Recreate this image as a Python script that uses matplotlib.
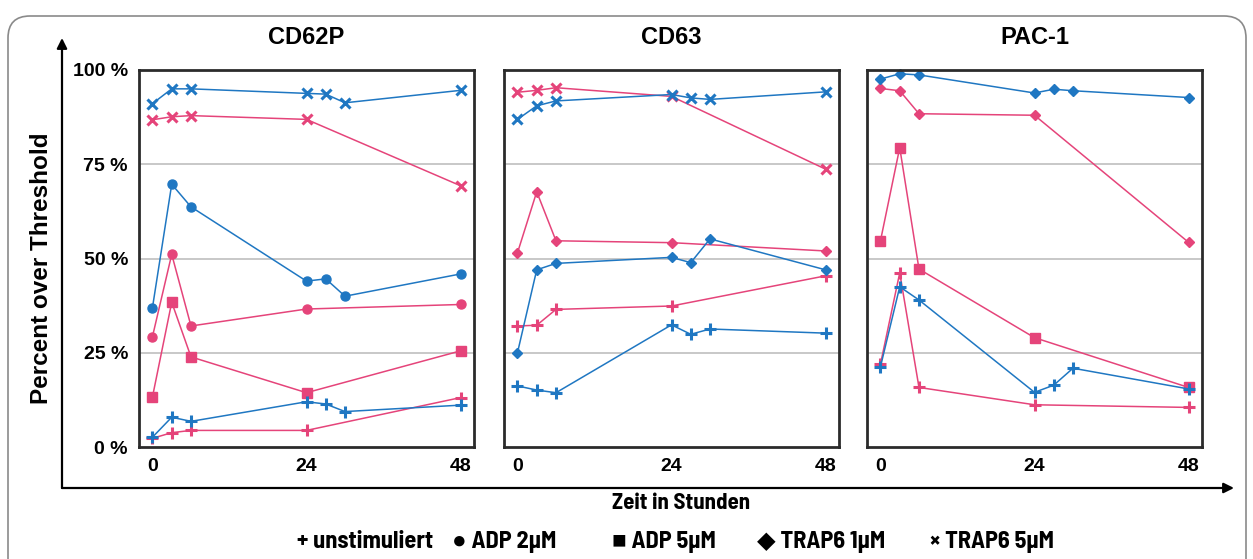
import matplotlib
matplotlib.use("Agg")
import matplotlib.pyplot as plt
from matplotlib.patches import FancyArrowPatch, FancyBboxPatch
from matplotlib.transforms import IdentityTransform

# ---- data ----
hours_blue = [0, 3, 6, 24, 27, 30, 48]
hours_pink = [0, 3, 6, 24, 48]

panel_titles = ["CD62P", "CD63", "PAC-1"]
y_ticks = [0, 25, 50, 75, 100]
y_ticklabels = ["0 %", "25 %", "50 %", "75 %", "100 %"]
x_ticks = [0, 24, 48]

# CD62P
cd62p_blue_x = [91.1, 95.0, 95.0, 93.8, 93.6, 91.3, 94.6]
cd62p_pink_x = [86.8, 87.6, 87.9, 86.9, 69.3]
cd62p_blue_o = [37.0, 69.7, 63.7, 44.0, 44.6, 40.0, 45.9]
cd62p_pink_o = [29.3, 51.1, 32.1, 36.6, 37.8]
cd62p_pink_s = [13.3, 38.4, 23.9, 14.4, 25.5]
cd62p_blue_plus = [2.6, 7.9, 6.8, 12.0, 11.4, 9.4, 11.1]
cd62p_pink_plus = [2.3, 3.8, 4.4, 4.4, 13.1]

# CD63
cd63_pink_x = [94.1, 94.6, 95.3, 93.0, 73.7]
cd63_blue_x = [86.9, 90.5, 91.8, 93.5, 92.6, 92.2, 94.2]
cd63_pink_d = [51.5, 67.7, 54.7, 54.2, 52.0]
cd63_blue_d = [25.0, 47.0, 48.7, 50.3, 48.9, 55.2, 47.0]
cd63_pink_plus = [32.1, 32.3, 36.5, 37.4, 45.4]
cd63_blue_plus = [16.2, 15.1, 14.4, 32.4, 29.9, 31.3, 30.2]

# PAC-1
pac1_blue_d = [97.6, 99.0, 98.7, 93.9, 94.9, 94.5, 92.7]
pac1_pink_d = [95.1, 94.5, 88.4, 88.0, 54.3]
pac1_pink_s = [54.7, 79.4, 47.2, 29.0, 15.8]
pac1_blue_plus = [21.3, 42.5, 39.0, 14.5, 16.4, 20.9, 15.4]
pac1_pink_plus = [22.0, 46.2, 15.8, 11.2, 10.5]

legend_labels = ["+ unstimuliert", "\u25CF ADP 2\u00B5M", "\u25A0 ADP 5\u00B5M",
                 "\u25C6 TRAP6 1\u00B5M", "\u00D7 TRAP6 5\u00B5M"]

BLUE = "#1f77c2"
PINK = "#e5447a"

# (hours, values, colour, marker)
panels = [
    [(hours_pink, cd62p_pink_x, PINK, "x"), (hours_pink, cd62p_pink_o, PINK, "o"),
     (hours_pink, cd62p_pink_s, PINK, "s"), (hours_pink, cd62p_pink_plus, PINK, "+"),
     (hours_blue, cd62p_blue_x, BLUE, "x"), (hours_blue, cd62p_blue_o, BLUE, "o"),
     (hours_blue, cd62p_blue_plus, BLUE, "+")],
    [(hours_pink, cd63_pink_x, PINK, "x"), (hours_pink, cd63_pink_d, PINK, "D"),
     (hours_pink, cd63_pink_plus, PINK, "+"),
     (hours_blue, cd63_blue_x, BLUE, "x"), (hours_blue, cd63_blue_d, BLUE, "D"),
     (hours_blue, cd63_blue_plus, BLUE, "+")],
    [(hours_pink, pac1_pink_d, PINK, "D"), (hours_pink, pac1_pink_s, PINK, "s"),
     (hours_pink, pac1_pink_plus, PINK, "+"),
     (hours_blue, pac1_blue_d, BLUE, "D"), (hours_blue, pac1_blue_plus, BLUE, "+")],
]

marker_style = {
    "x": dict(markersize=7, markeredgewidth=2.2),
    "o": dict(markersize=6.5),
    "s": dict(markersize=6.5),
    "D": dict(markersize=5.5),
    "+": dict(markersize=8, markeredgewidth=2.2),
}

plt.rcParams["font.family"] = ["Liberation Sans", "DejaVu Sans"]
narrow = ["Barlow Semi Condensed", "Liberation Sans", "DejaVu Sans"]

W, H = 1253, 559
fig = plt.figure(figsize=(W / 100, H / 100), dpi=100)

# outer rounded frame
fig.add_artist(FancyBboxPatch((8, -40), 1238, 543 + 40,
                              boxstyle="round,pad=0,rounding_size=22",
                              transform=IdentityTransform(),
                              facecolor="none", edgecolor="#8a8a8a", lw=1.2))

lefts = [139, 504, 867]
pw = 335
top, bottom = 70, 447

for i, (left, series) in enumerate(zip(lefts, panels)):
    ax = fig.add_axes([left / W, (H - bottom) / H, pw / W, (bottom - top) / H])
    for y in [25, 50, 75]:
        ax.axhline(y, color="#c4c4c4", lw=1.3, zorder=0)
    for hrs, vals, col, mk in series:
        ax.plot(hrs, vals, color=col, lw=1.1, marker=mk,
                markerfacecolor=col, markeredgecolor=col, clip_on=False,
                **marker_style[mk])
    ax.set_xlim(-2.1, 50.1)
    ax.set_ylim(0, 100)
    ax.set_xticks(x_ticks)
    ax.set_xticklabels([str(t) for t in x_ticks], fontsize=14, fontweight="bold")
    ax.set_yticks(y_ticks)
    if i == 0:
        ax.set_yticklabels(y_ticklabels, fontsize=14, fontweight="bold")
    else:
        ax.set_yticklabels([])
    ax.tick_params(length=0, pad=8)
    for sp in ax.spines.values():
        sp.set_color("#2b2b2b")
        sp.set_linewidth(2)
    fig.text((left + pw / 2) / W, 1 - 37 / H, panel_titles[i],
             ha="center", va="center", fontsize=17, fontweight="bold")

# big axis arrows
ax_x, ax_y = 62, 488
fig.add_artist(FancyArrowPatch((ax_x / W, 1 - ax_y / H), (ax_x / W, 1 - 38 / H),
                               transform=fig.transFigure, arrowstyle="-|>,head_length=6,head_width=3",
                               color="black", lw=1.6, shrinkA=0, shrinkB=0))
fig.add_artist(FancyArrowPatch((ax_x / W, 1 - ax_y / H), (1234 / W, 1 - ax_y / H),
                               transform=fig.transFigure, arrowstyle="-|>,head_length=6,head_width=3",
                               color="black", lw=1.6, shrinkA=0, shrinkB=0))

fig.text(42 / W, 1 - 268 / H, "Percent over Threshold", rotation=90,
         ha="center", va="center", fontsize=17.5, fontweight="bold")
fig.text(681 / W, 1 - 503 / H, "Zeit in Stunden", ha="center", va="center",
         fontsize=16.5, fontweight="bold", family=narrow)

legend_x = [297, 452, 612, 757, 930]
for x, lab in zip(legend_x, legend_labels):
    fig.text(x / W, 1 - 542 / H, lab, ha="left", va="center",
             fontsize=17.5, fontweight="bold", family=narrow)

fig.savefig("out.png", dpi=100)
